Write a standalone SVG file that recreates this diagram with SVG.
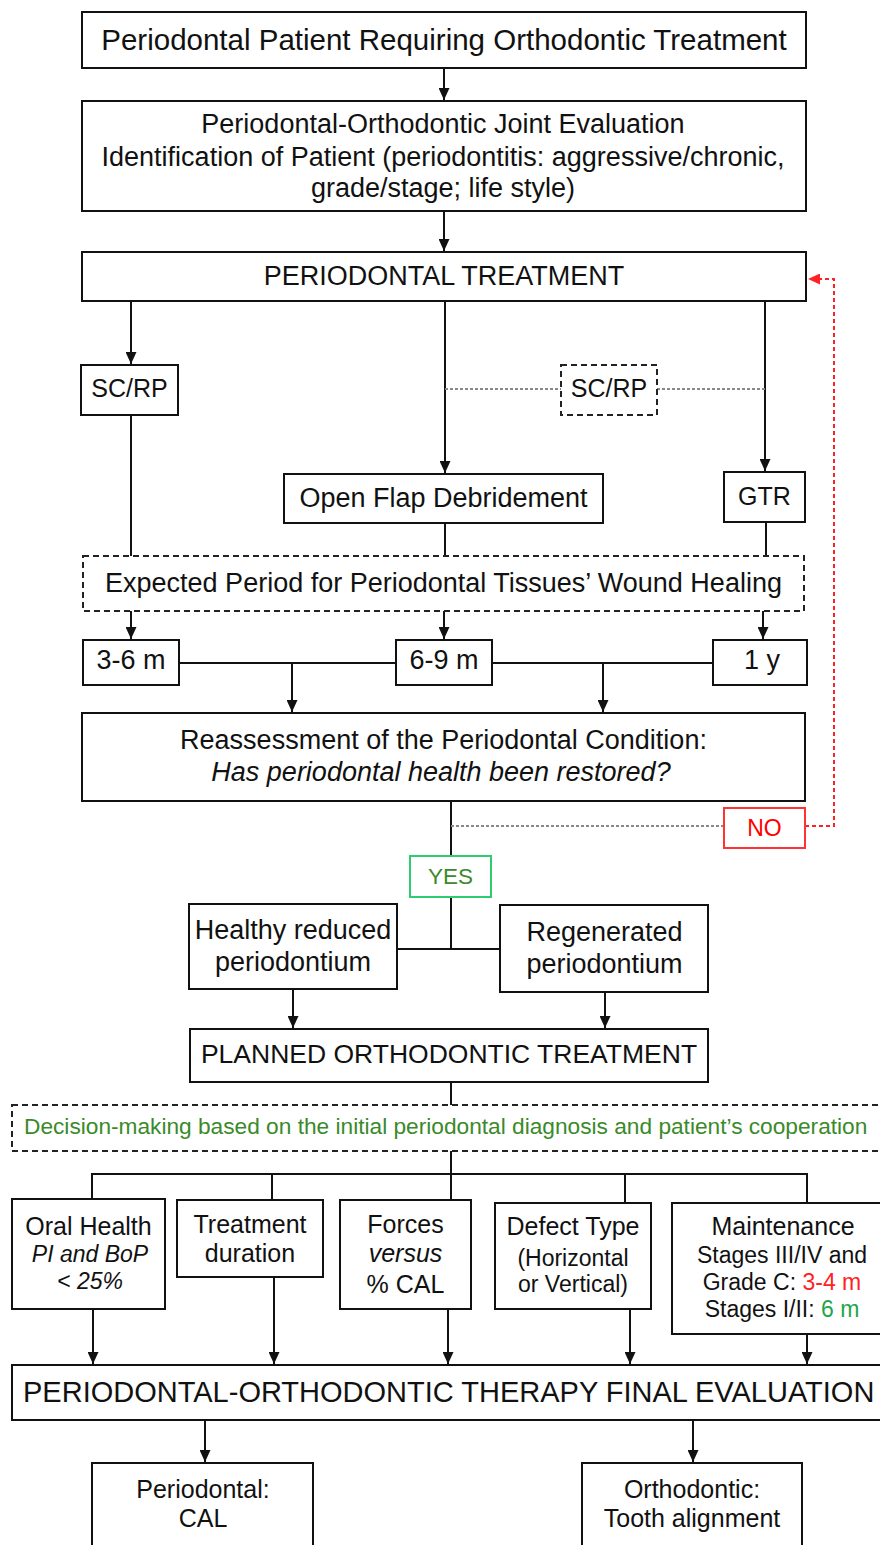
<svg xmlns="http://www.w3.org/2000/svg" width="880" height="1545" viewBox="0 0 880 1545">
<style>
text{font-family:"Liberation Sans",Arial,Helvetica,sans-serif;fill:#111;text-anchor:middle}
.b{fill:#fff;stroke:#111;stroke-width:2}
.d{fill:#fff;stroke:#222;stroke-width:2;stroke-dasharray:6 4}
.l{fill:none;stroke:#111;stroke-width:2}
.g{fill:none;stroke:#888;stroke-width:2;stroke-dasharray:3 2}
.r{fill:none;stroke:#f22;stroke-width:2;stroke-dasharray:4 3}
.f27{font-size:27px}.f25{font-size:25px}.f23{font-size:23px}
.i{font-style:italic}
</style>
<defs>
<marker id="a" markerUnits="userSpaceOnUse" markerWidth="12" markerHeight="11" refX="12" refY="5.5" orient="auto"><path d="M0,0L12,5.5L0,11z" fill="#111"/></marker>
<marker id="ar" markerUnits="userSpaceOnUse" markerWidth="12" markerHeight="11" refX="12" refY="5.5" orient="auto"><path d="M0,0L12,5.5L0,11z" fill="#f22"/></marker>
</defs>
<rect width="880" height="1545" fill="#fff"/>
<g id="connectors">
<path class="l" d="M444,68V100" marker-end="url(#a)"/>
<path class="l" d="M444,211V251" marker-end="url(#a)"/>
<path class="l" d="M131,301V364" marker-end="url(#a)"/>
<path class="l" d="M445,301V473" marker-end="url(#a)"/>
<path class="l" d="M765,301V471" marker-end="url(#a)"/>
<path class="g" d="M445,389H561M657,389H765"/>
<path class="l" d="M131,415V556M445,523V556M766,522V556"/>
<path class="l" d="M131,611V639" marker-end="url(#a)"/>
<path class="l" d="M444,611V639" marker-end="url(#a)"/>
<path class="l" d="M763,611V639" marker-end="url(#a)"/>
<path class="l" d="M179,663H396M492,663H713"/>
<path class="l" d="M292,663V712" marker-end="url(#a)"/>
<path class="l" d="M603,663V712" marker-end="url(#a)"/>
<path class="l" d="M451,801V856"/>
<path class="g" d="M451,826H724"/>
<path class="r" d="M805,826H834V279H808" marker-end="url(#ar)"/>
<path class="l" d="M451,897V949M397,949H500"/>
<path class="l" d="M293,989V1028" marker-end="url(#a)"/>
<path class="l" d="M605,992V1028" marker-end="url(#a)"/>
<path class="l" d="M451,1082V1105"/>
<path class="l" d="M451,1151V1200M92,1199V1174H807V1203M272,1174V1200M625,1174V1203"/>
<path class="l" d="M93,1309V1364" marker-end="url(#a)"/>
<path class="l" d="M274,1277V1364" marker-end="url(#a)"/>
<path class="l" d="M448,1309V1364" marker-end="url(#a)"/>
<path class="l" d="M630,1309V1364" marker-end="url(#a)"/>
<path class="l" d="M807,1334V1364" marker-end="url(#a)"/>
<path class="l" d="M205,1420V1462" marker-end="url(#a)"/>
<path class="l" d="M693,1420V1462" marker-end="url(#a)"/>
</g>
<g id="n-start"><rect class="b" x="82" y="12" width="724" height="56"/><text x="444" y="50" style="font-size:29.5px">Periodontal Patient Requiring Orthodontic Treatment</text></g>
<g id="n-eval"><rect class="b" x="82" y="101" width="724" height="110"/>
<text class="f27" x="443" y="133">Periodontal-Orthodontic Joint Evaluation</text>
<text class="f27" x="443" y="166">Identification of Patient (periodontitis: aggressive/chronic,</text>
<text class="f27" x="443" y="197">grade/stage; life style)</text></g>
<g id="n-pt"><rect class="b" x="82" y="252" width="724" height="49"/><text class="f27" x="444" y="285">PERIODONTAL TREATMENT</text></g>
<g id="n-scrp"><rect class="b" x="81" y="365" width="97" height="50"/><text x="129.5" y="397" style="font-size:25px">SC/RP</text></g>
<g id="n-scrp2"><rect class="d" x="561" y="365" width="96" height="50"/><text x="609" y="397" style="font-size:25px">SC/RP</text></g>
<g id="n-ofd"><rect class="b" x="284" y="474" width="319" height="49"/><text class="f27" x="443.5" y="507">Open Flap Debridement</text></g>
<g id="n-gtr"><rect class="b" x="724" y="472" width="81" height="50"/><text x="764.5" y="505" style="font-size:25px">GTR</text></g>
<g id="n-period"><rect class="d" x="83" y="556" width="721" height="55"/><text class="f27" x="443.5" y="592">Expected Period for Periodontal Tissues’ Wound Healing</text></g>
<g id="n-36"><rect class="b" x="83" y="640" width="96" height="45"/><text class="f27" x="131" y="669">3-6 m</text></g>
<g id="n-69"><rect class="b" x="396" y="640" width="96" height="45"/><text class="f27" x="444" y="669">6-9 m</text></g>
<g id="n-1y"><rect class="b" x="713" y="640" width="94" height="45"/><text class="f27" x="762" y="669">1 y</text></g>
<g id="n-reass"><rect class="b" x="82" y="713" width="723" height="88"/>
<text class="f27" x="443.5" y="749">Reassessment of the Periodontal Condition:</text>
<text class="f27 i" x="441" y="781">Has periodontal health been restored?</text></g>
<g id="n-no"><rect x="724" y="808" width="81" height="40" fill="#fff" stroke="#f33" stroke-width="2"/><text x="764.5" y="836" style="font-size:23px;fill:#f00">NO</text></g>
<g id="n-yes"><rect x="410" y="856" width="81" height="41" fill="#fff" stroke="#2ecc71" stroke-width="2"/><text x="450.5" y="884" style="font-size:22.5px;fill:#3a8a2a">YES</text></g>
<g id="n-healthy"><rect class="b" x="189" y="904" width="208" height="85"/>
<text class="f27" x="293" y="939">Healthy reduced</text><text class="f27" x="293" y="971">periodontium</text></g>
<g id="n-regen"><rect class="b" x="500" y="905" width="208" height="87"/>
<text class="f27" x="604.5" y="941">Regenerated</text><text class="f27" x="604.5" y="973">periodontium</text></g>
<g id="n-planned"><rect class="b" x="190" y="1029" width="518" height="53"/><text x="449" y="1063" style="font-size:26.5px">PLANNED ORTHODONTIC TREATMENT</text></g>
<g id="n-decision"><rect class="d" x="12" y="1105" width="880" height="46"/><text x="24" y="1134" style="font-size:22.7px;fill:#3a8a2a;text-anchor:start">Decision-making based on the initial periodontal diagnosis and patient’s cooperation</text></g>
<g id="n-oral"><rect class="b" x="12" y="1199" width="153" height="110"/>
<text class="f25" x="88.5" y="1235">Oral Health</text>
<text class="f23 i" x="90" y="1262">PI and BoP</text>
<text class="f23 i" x="90" y="1289">&lt; 25%</text></g>
<g id="n-dur"><rect class="b" x="177" y="1200" width="146" height="77"/>
<text class="f25" x="250" y="1233">Treatment</text><text class="f25" x="250" y="1262">duration</text></g>
<g id="n-forces"><rect class="b" x="340" y="1200" width="131" height="109"/>
<text class="f25" x="405.5" y="1233">Forces</text><text class="f25 i" x="405.5" y="1262">versus</text><text class="f25" x="405.5" y="1293">% CAL</text></g>
<g id="n-defect"><rect class="b" x="495" y="1203" width="156" height="106"/>
<text class="f25" x="573" y="1235">Defect Type</text><text class="f23" x="573" y="1266">(Horizontal</text><text class="f23" x="573" y="1292">or Vertical)</text></g>
<g id="n-maint"><rect class="b" x="672" y="1203" width="222" height="131"/>
<text class="f25" x="783" y="1235">Maintenance</text>
<text class="f23" x="782" y="1263">Stages III/IV and</text>
<text class="f23" x="782" y="1290">Grade C: <tspan style="fill:#f22">3-4 m</tspan></text>
<text class="f23" x="782" y="1317">Stages I/II: <tspan style="fill:#1ea64a">6 m</tspan></text></g>
<g id="n-final"><rect class="b" x="12" y="1365" width="880" height="55"/><text x="23" y="1402" style="font-size:29px;text-anchor:start">PERIODONTAL-ORTHODONTIC THERAPY FINAL EVALUATION</text></g>
<g id="n-perio"><rect class="b" x="92" y="1463" width="221" height="95"/>
<text class="f25" x="203" y="1498">Periodontal:</text><text class="f25" x="203" y="1527">CAL</text></g>
<g id="n-ortho"><rect class="b" x="582" y="1463" width="220" height="95"/>
<text class="f25" x="692" y="1498">Orthodontic:</text><text class="f25" x="692" y="1527">Tooth alignment</text></g>
</svg>
